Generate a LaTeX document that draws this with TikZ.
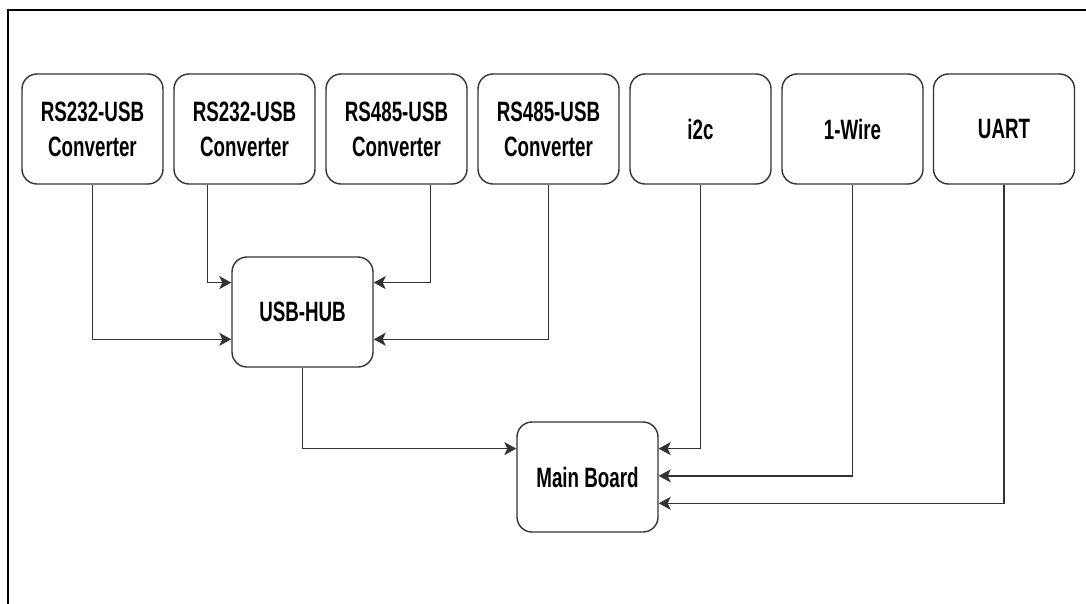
\documentclass[tikz,border=0pt]{standalone}
\usepackage{fontspec}
\setmainfont{Liberation Sans}[FakeStretch=0.67]
\usetikzlibrary{calc,arrows.meta}
\definecolor{edge}{HTML}{333333}
\tikzset{
  box/.style={draw=edge, line width=1.4pt, rounded corners=15pt, fill=white,
    minimum width=141pt, minimum height=110pt, inner sep=0pt, align=center,
    font=\fontsize{28}{35}\selectfont\bfseries},
  conn/.style={draw=edge, line width=1.5pt, -{Stealth[length=12pt,width=13pt,inset=3pt]}}
}
\begin{document}
\begin{tikzpicture}[x=1pt,y=-1pt]
\useasboundingbox (0,0) rectangle (1086,603);
\begin{scope}
\clip (0,0) rectangle (1086,603);
\draw[line width=2pt, black] (8,10) rectangle (1100,620);
\end{scope}
\node[box] (b1) at (92.5,129) {RS232-USB\\Converter};
\node[box] (b2) at (244.5,129) {RS232-USB\\Converter};
\node[box] (b3) at (396.5,129) {RS485-USB\\Converter};
\node[box] (b4) at (548.5,129) {RS485-USB\\Converter};
\node[box] (b5) at (700.5,129) {i2c};
\node[box] (b6) at (852.5,129) {1-Wire};
\node[box] (b7) at (1004,129) {UART};
\node[box] (hub) at (302.5,312) {USB-HUB};
\node[box] (mb) at (587.5,477) {Main Board};
\draw[conn] (b1.south) |- ($(hub.north west)!0.745!(hub.south west)$);
\draw[conn] ($(b2.south west)!0.24!(b2.south east)$) |- ($(hub.north west)!0.236!(hub.south west)$);
\draw[conn] ($(b3.south west)!0.74!(b3.south east)$) |- ($(hub.north east)!0.236!(hub.south east)$);
\draw[conn] (b4.south) |- ($(hub.north east)!0.745!(hub.south east)$);
\draw[conn] (hub.south) |- ($(mb.north west)!0.245!(mb.south west)$);
\draw[conn] (b5.south) |- ($(mb.north east)!0.245!(mb.south east)$);
\draw[conn] (b6.south) |- ($(mb.north east)!0.49!(mb.south east)$);
\draw[conn] (b7.south) |- ($(mb.north east)!0.736!(mb.south east)$);
\end{tikzpicture}
\end{document}
